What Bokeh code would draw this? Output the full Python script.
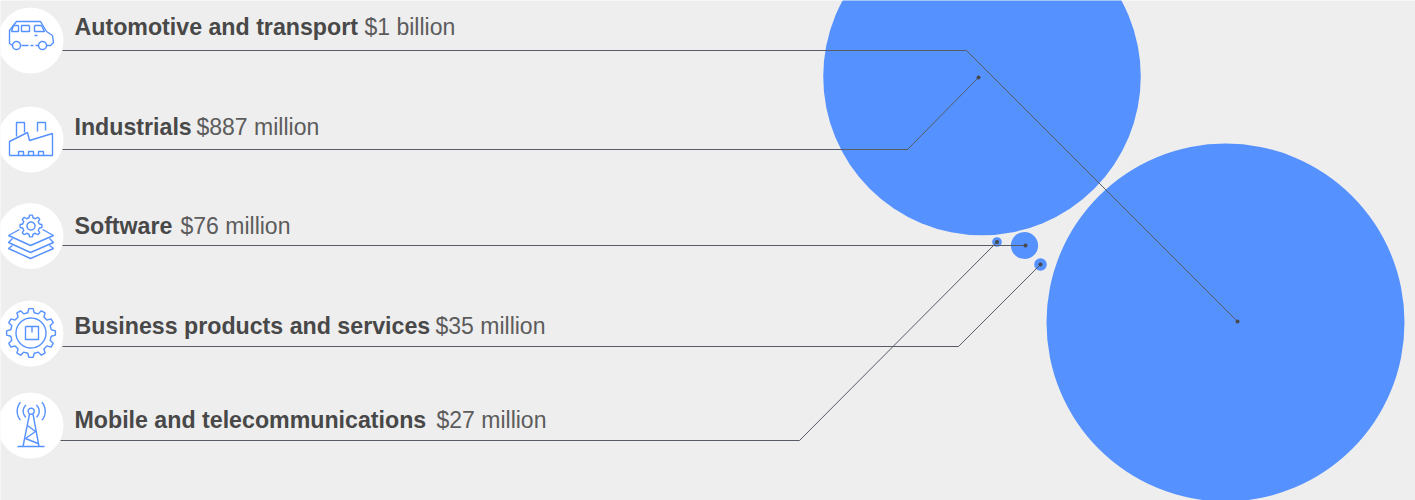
import numpy as np
from bokeh.core.properties import value
from bokeh.embed import file_html
from bokeh.models import ColumnDataSource, Range1d
from bokeh.plotting import figure
from bokeh.resources import INLINE

# Market sizes, in millions of dollars
sectors = ["Automotive and transport", "Industrials", "Software",
           "Business products and services", "Mobile and telecommunications"]
amounts = ["$1 billion", "$887 million", "$76 million", "$35 million", "$27 million"]
market_size = [1000, 887, 76, 35, 27]

# Layout, in page pixels
bubble_x = [1225, 981.5, 1024, 1040, 996.5]
bubble_y = [322, 76, 245, 264, 241.5]
px_per_million = 0.179
leader_x = [[62, 966, 1237], [62, 907, 978], [62, 1025], [62, 958, 1040], [60, 799, 996.5]]
leader_y = [[50, 50, 321], [149, 149, 77], [245, 245], [346, 346, 264], [440, 440, 241.5]]
label_x = [74, 74, 74, 74, 74]
label_y = [26, 126.5, 225.5, 325.5, 419]
amount_x = [364, 196, 180, 435, 436]
badge_y = [40, 139, 235.5, 333, 425]

BLUE = "#5591ff"
INK = "#484848"
RULE = "#565b66"
BACKGROUND = "#eeeeee"

p = figure(width=1415, height=500, output_backend="svg", toolbar_location=None,
           x_range=Range1d(0, 1415), y_range=Range1d(500, 0),
           min_border=0, outline_line_color=None,
           background_fill_color=BACKGROUND, border_fill_color=BACKGROUND)
p.axis.visible = False
p.grid.visible = False

# Bubbles: radius follows the market size
p.circle(x=bubble_x, y=bubble_y,
         radius=[m * px_per_million for m in market_size],
         fill_color=BLUE, line_color=None)

# Leader lines from each label to its bubble
p.multi_line(xs=leader_x, ys=leader_y, line_color=RULE, line_width=1)
p.scatter(x=[xs[-1] for xs in leader_x], y=[ys[-1] for ys in leader_y],
          size=4, marker="circle", fill_color=INK, line_color=None)

# White badges behind the icons
p.circle(x=[30] * 5, y=badge_y, radius=33, fill_color="white", line_color=None)


def ring(cx, cy, r, start=0.0, stop=360.0, n=48):
    t = np.radians(np.linspace(start, stop, n))
    return list(cx + r * np.cos(t)), list(cy + r * np.sin(t))


def gear(cx, cy, r_out, r_in, teeth):
    step = 2 * np.pi / teeth
    ang, rad = [], []
    for i in range(teeth):
        a = i * step
        ang += [a - step * 0.30, a - step * 0.17, a + step * 0.17, a + step * 0.30]
        rad += [r_in, r_out, r_out, r_in]
    ang.append(ang[0])
    rad.append(rad[0])
    return list(cx + np.array(rad) * np.cos(ang)), list(cy + np.array(rad) * np.sin(ang))


def poly(*pts):
    return [pt[0] for pt in pts], [pt[1] for pt in pts]


# Line icons, one outline per entry
icon = [
    # van
    poly((12, 45), (9, 43), (9, 30), (16, 21), (40, 21), (46, 31), (52, 35), (53, 42), (50, 45), (46, 45)),
    poly((18, 25), (13, 25), (11, 31), (18, 31), (18, 25)),
    poly((29, 25), (21, 25), (21, 31), (29, 31), (29, 25)),
    poly((34, 25), (41, 25), (44, 31), (34, 31), (34, 25)),
    poly((34, 35), (37, 35)),
    poly((21, 45), (28, 45)),
    poly((30, 45), (33, 45)),
    poly((35, 45), (38, 45)),
    ring(16, 45, 4),
    ring(42, 45, 4),
    # factory
    poly((9, 155), (9, 141), (27, 132), (29, 140), (52, 133), (52, 155), (9, 155)),
    poly((16, 136), (16, 122), (24, 122), (24, 132)),
    poly((37, 131), (37, 122), (45, 122), (45, 130)),
    poly((18, 155), (18, 151), (23, 151), (23, 155)),
    poly((28, 155), (28, 151), (33, 151), (33, 155)),
    poly((38, 155), (38, 151), (43, 151), (43, 155)),
    # cog on stacked sheets
    gear(30.5, 225.5, 11, 8.5, 8),
    ring(30.5, 225.5, 4),
    poly((19, 229), (8, 235), (30, 245), (53, 235), (42, 229)),
    poly((12, 238), (8, 242), (30, 252), (53, 242), (49, 238)),
    poly((12, 245), (8, 248), (30, 258), (53, 248), (49, 245)),
    # large cog with a parcel
    gear(30.5, 332.5, 24.5, 20.5, 12),
    ring(30.5, 332.5, 15),
    poly((25, 326), (38, 326), (38, 339), (25, 339), (25, 326)),
    poly((31.5, 326), (31.5, 332)),
    # mast
    ring(30.7, 410.7, 3),
    ring(30.7, 410.7, 8, 130, 230, 16),
    ring(30.7, 410.7, 8, -50, 50, 16),
    ring(30.7, 410.7, 14, 140, 220, 16),
    ring(30.7, 410.7, 14, -40, 40, 16),
    poly((29, 413.5), (22.5, 446)),
    poly((32.5, 413.5), (38.5, 446)),
    poly((17, 446), (44, 446)),
    poly((27, 425), (35, 431), (25, 438), (37.5, 443)),
]
p.multi_line(xs=[i[0] for i in icon], ys=[i[1] for i in icon],
             line_color=BLUE, line_width=1.4)

# Sector names and their amounts
names = ColumnDataSource(dict(x=label_x, y=label_y, text=sectors))
sums = ColumnDataSource(dict(x=amount_x, y=label_y, text=amounts))
p.text("x", "y", text="text", source=names, text_font=value("Liberation Sans"),
       text_font_style="bold", text_font_size="23.2px", text_color=INK,
       text_baseline="middle")
p.text("x", "y", text="text", source=sums, text_font=value("Liberation Sans"),
       text_font_size="23px", text_color="#5c5c5c", text_baseline="middle")

open("out.html", "w").write(file_html(p, INLINE))
